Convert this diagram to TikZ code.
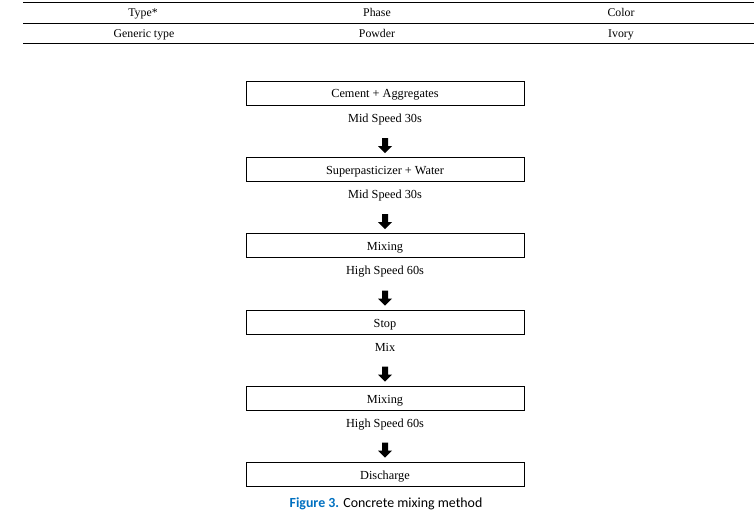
\documentclass[tikz,border=0pt]{standalone}
\usepackage{fontspec}
\setmainfont{Liberation Serif}
\newfontfamily\capfont{Carlito}
\usetikzlibrary{arrows.meta}
\definecolor{capblue}{RGB}{0,112,192}
\begin{document}
\begin{tikzpicture}[x=1pt,y=-1pt,
  stepbox/.style={draw, line width=0.8pt, minimum width=278pt, minimum height=24pt, inner sep=0pt, text height=12pt, text depth=2pt, font=\fontsize{12.3}{14}\selectfont},
  lbl/.style={font=\fontsize{12.3}{14}\selectfont, inner sep=0pt, anchor=base},
  tbl/.style={font=\fontsize{11.8}{13}\selectfont, inner sep=0pt, anchor=base},
  blockarrow/.style={fill=black}]
\useasboundingbox (0,0) rectangle (754,516);
% table
\draw[line width=0.9pt] (23,2.5) -- (754,2.5);
\draw[line width=0.6pt] (23,23) -- (754,23);
\draw[line width=1.2pt] (23,43.5) -- (754,43.5);
\node[tbl] (t1) at (143,17) {Type*};
\node[tbl] (t2) at (377,17) {Phase};
\node[tbl] (t3) at (621,17) {Color};
\node[tbl] (t4) at (144,37.5) {Generic type};
\node[tbl] (t5) at (377,37.5) {Powder};
\node[tbl] (t6) at (621,37.5) {Ivory};
% boxes
\node[stepbox] (b1) at (385,93) {Cement + Aggregates};
\node[stepbox] (b2) at (385,169.5) {Superpasticizer + Water};
\node[stepbox] (b3) at (385,245.5) {Mixing};
\node[stepbox] (b4) at (385,322) {Stop};
\node[stepbox] (b5) at (385,398) {Mixing};
\node[stepbox] (b6) at (385,474) {Discharge};
\foreach \a/\b/\t in {b1/b2/Mid Speed 30s, b2/b3/Mid Speed 30s, b3/b4/High Speed 60s, b4/b5/Mix, b5/b6/High Speed 60s}{
  \node[lbl] (l\a) at ([yshift=-17pt]\a.south) {\t};
  \coordinate (ta\a) at ([yshift=4pt]\b.north);
  \fill[blockarrow] ([xshift=-3pt,yshift=15pt]ta\a) -- ([xshift=3pt,yshift=15pt]ta\a) -- ([xshift=3pt,yshift=7pt]ta\a) -- ([xshift=7pt,yshift=7pt]ta\a) -- (ta\a) -- ([xshift=-7pt,yshift=7pt]ta\a) -- ([xshift=-3pt,yshift=7pt]ta\a) -- cycle;
}
\node[font=\capfont\fontsize{13.9}{16}\selectfont, inner sep=0pt] (cap) at (386,504) {\textcolor{capblue}{\bfseries Figure 3.} Concrete mixing method};
\end{tikzpicture}
\end{document}
